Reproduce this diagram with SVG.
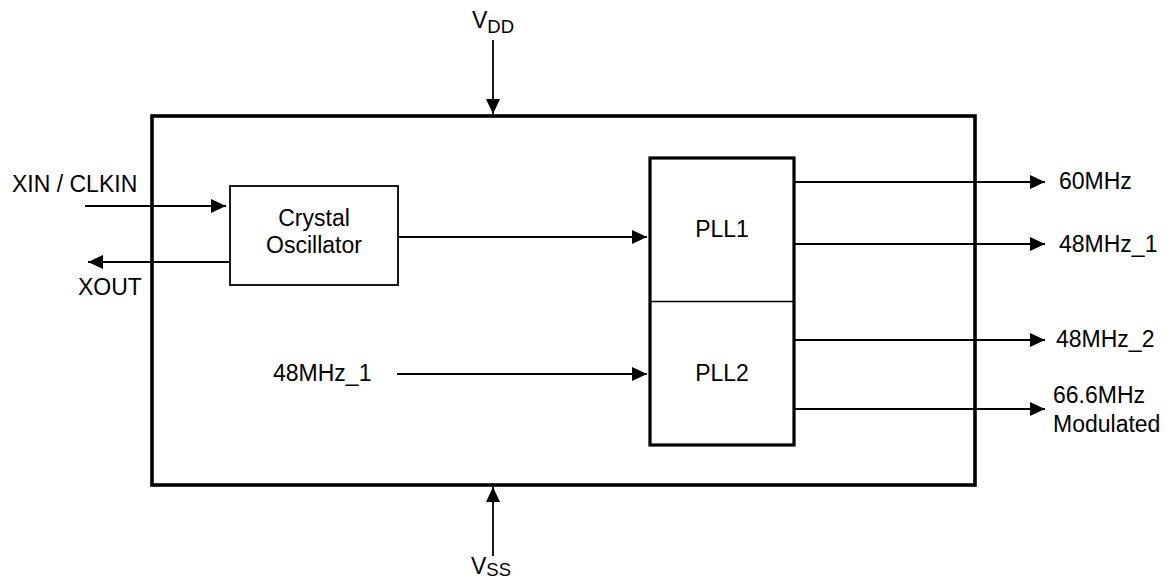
<svg xmlns="http://www.w3.org/2000/svg" width="1170" height="581" viewBox="0 0 1170 581">
<style>
text{font-family:"Liberation Sans",Arial,sans-serif;font-size:23px;fill:#000}
.sub{font-size:18.5px}
.c{text-anchor:middle}
.w{stroke:#000;stroke-width:1.8;fill:none}
</style>
<defs>
<marker id="ah" markerUnits="userSpaceOnUse" markerWidth="16" markerHeight="16" refX="15" refY="7" orient="auto"><path d="M0,0 L15,7 L0,14 z" fill="#000"/></marker>
</defs>
<rect width="1170" height="581" fill="#fff"/>
<g id="chip"><rect x="152" y="116" width="823" height="369" fill="none" stroke="#000" stroke-width="3.6"/></g>
<g id="osc"><rect x="230" y="186" width="168" height="99" fill="none" stroke="#000" stroke-width="1.8"/>
<text x="314" y="226" class="c">Crystal</text><text x="314" y="253" class="c">Oscillator</text></g>
<g id="pll"><rect x="650" y="158" width="144" height="287" fill="none" stroke="#000" stroke-width="3.2"/>
<line x1="650" y1="301.5" x2="794" y2="301.5" stroke="#000" stroke-width="1.6"/>
<text x="722" y="237" class="c">PLL1</text><text x="722" y="381" class="c">PLL2</text></g>
<g id="vdd"><text x="472" y="28">V<tspan class="sub" dy="5">DD</tspan></text></g>
<g id="vss"><text x="471" y="574">V<tspan class="sub" dy="2">SS</tspan></text></g>
<g id="labels">
<text x="12" y="192">XIN / CLKIN</text>
<text x="78" y="295">XOUT</text>
<text x="273" y="381">48MHz_1</text>
<text x="1059" y="189">60MHz</text>
<text x="1059" y="252">48MHz_1</text>
<text x="1056" y="347">48MHz_2</text>
<text x="1053" y="403">66.6MHz</text>
<text x="1053" y="432">Modulated</text>
</g>
<g id="connectors">
<line class="w" x1="493" y1="40" x2="493" y2="114" marker-end="url(#ah)"/>
<line class="w" x1="493" y1="556" x2="493" y2="487" marker-end="url(#ah)"/>
<line class="w" x1="85" y1="206" x2="226" y2="206" marker-end="url(#ah)"/>
<line class="w" x1="230" y1="262" x2="88" y2="262" marker-end="url(#ah)"/>
<line class="w" x1="398" y1="237" x2="647" y2="237" marker-end="url(#ah)"/>
<line class="w" x1="397" y1="374" x2="647" y2="374" marker-end="url(#ah)"/>
<line class="w" x1="794" y1="182" x2="1045" y2="182" marker-end="url(#ah)"/>
<line class="w" x1="794" y1="244" x2="1045" y2="244" marker-end="url(#ah)"/>
<line class="w" x1="794" y1="340" x2="1045" y2="340" marker-end="url(#ah)"/>
<line class="w" x1="794" y1="409" x2="1045" y2="409" marker-end="url(#ah)"/>
</g>
</svg>
